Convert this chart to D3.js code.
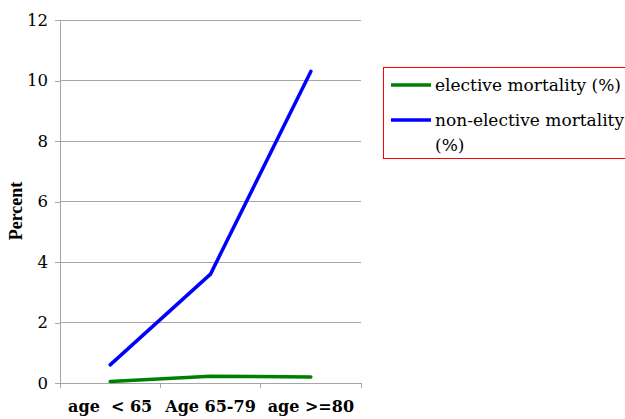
<!DOCTYPE html>
<html>
<head>
<meta charset="utf-8">
<script src="https://cdn.jsdelivr.net/npm/d3@7"></script>
<style>
  body { margin: 0; background: #fff; }
  svg { display: block; }
</style>
</head>
<body>
<svg id="chart" width="625" height="419"></svg>
<script>
const categories = ["age  < 65", "Age 65-79", "age >=80"];
const elective = [0.05, 0.22, 0.2];
const nonElective = [0.6, 3.6, 10.3];
const yTicks = [0, 2, 4, 6, 8, 10, 12];
const seriesNames = ["elective mortality (%)", "non-elective mortality (%)"];
const seriesColors = ["#008000", "#0000ff"];

(function () {
const svg = d3.select("#chart");
const font = "'DejaVu Serif', 'Liberation Serif', serif";
const titleFont = "'Liberation Serif', 'DejaVu Serif', serif";
const plotLeft = 60, plotRight = 361, plotTop = 20, plotBottom = 383;

const x = d3.scaleBand().domain(categories).range([plotLeft, plotRight]);
const y = d3.scaleLinear().domain([0, 12]).range([plotBottom, plotTop]);

// horizontal gridlines
svg.append("g").selectAll("line").data(yTicks.filter(d => d > 0)).join("line")
  .attr("x1", plotLeft).attr("x2", plotRight)
  .attr("y1", d => y(d)).attr("y2", d => y(d))
  .attr("stroke", "#a6a6a6").attr("stroke-width", 1)
  .attr("shape-rendering", "crispEdges");

// y axis
const yAxis = svg.append("g").attr("transform", `translate(${plotLeft},0)`)
  .call(d3.axisLeft(y).tickValues(yTicks).tickSize(5).tickPadding(7).tickFormat(d3.format("d")));
yAxis.select(".domain").attr("stroke", "#a6a6a6").attr("shape-rendering", "crispEdges");
yAxis.selectAll(".tick line").attr("stroke", "#a6a6a6").attr("shape-rendering", "crispEdges");
yAxis.selectAll("text").attr("font-family", font).attr("font-size", 16.5).attr("fill", "#000");

// x axis
const xAxis = svg.append("g").attr("transform", `translate(0,${plotBottom})`)
  .call(d3.axisBottom(x).tickSize(0).tickPadding(18));
xAxis.select(".domain").attr("stroke", "#a6a6a6").attr("shape-rendering", "crispEdges");
xAxis.selectAll("text").attr("font-family", font).attr("font-size", 16)
  .attr("font-weight", "bold").attr("fill", "#000").style("white-space", "pre");
// category boundary ticks
const bounds = categories.map(c => x(c)).concat([x(categories[categories.length - 1]) + x.bandwidth()]);
svg.append("g").selectAll("line").data(bounds).join("line")
  .attr("x1", d => d).attr("x2", d => d)
  .attr("y1", plotBottom).attr("y2", plotBottom + 5)
  .attr("stroke", "#a6a6a6").attr("shape-rendering", "crispEdges");

// y axis title
svg.append("text")
  .attr("transform", `translate(22,211) rotate(-90)`)
  .attr("text-anchor", "middle")
  .attr("font-family", titleFont).attr("font-size", 18).attr("font-weight", "bold")
  .text("Percent");

// series lines
const line = d3.line()
  .x((d, i) => x(categories[i]) + x.bandwidth() / 2)
  .y(d => y(d));
[elective, nonElective].forEach((s, i) => {
  svg.append("path").datum(s)
    .attr("d", line)
    .attr("fill", "none")
    .attr("stroke", seriesColors[i])
    .attr("stroke-width", 3.5)
    .attr("stroke-linecap", "round")
    .attr("stroke-linejoin", "round");
});

// legend
const lg = svg.append("g");
lg.append("rect").attr("x", 383.5).attr("y", 67.5).attr("width", 260).attr("height", 91)
  .attr("fill", "#fff").attr("stroke", "#ff0000").attr("stroke-width", 1);
const legendRows = [
  { lines: ["elective mortality (%)"], y: 85 },
  { lines: ["non-elective mortality", "(%)"], y: 120 }
];
legendRows.forEach((r, i) => {
  lg.append("line").attr("x1", 391).attr("x2", 431).attr("y1", r.y).attr("y2", r.y)
    .attr("stroke", seriesColors[i]).attr("stroke-width", 3.5);
  const t = lg.append("text").attr("font-family", font).attr("font-size", 17).attr("fill", "#000");
  r.lines.forEach((l, j) => {
    t.append("tspan").attr("x", 435).attr("y", r.y + 6 + j * 25).text(l);
  });
});
})();
</script>
</body>
</html>
